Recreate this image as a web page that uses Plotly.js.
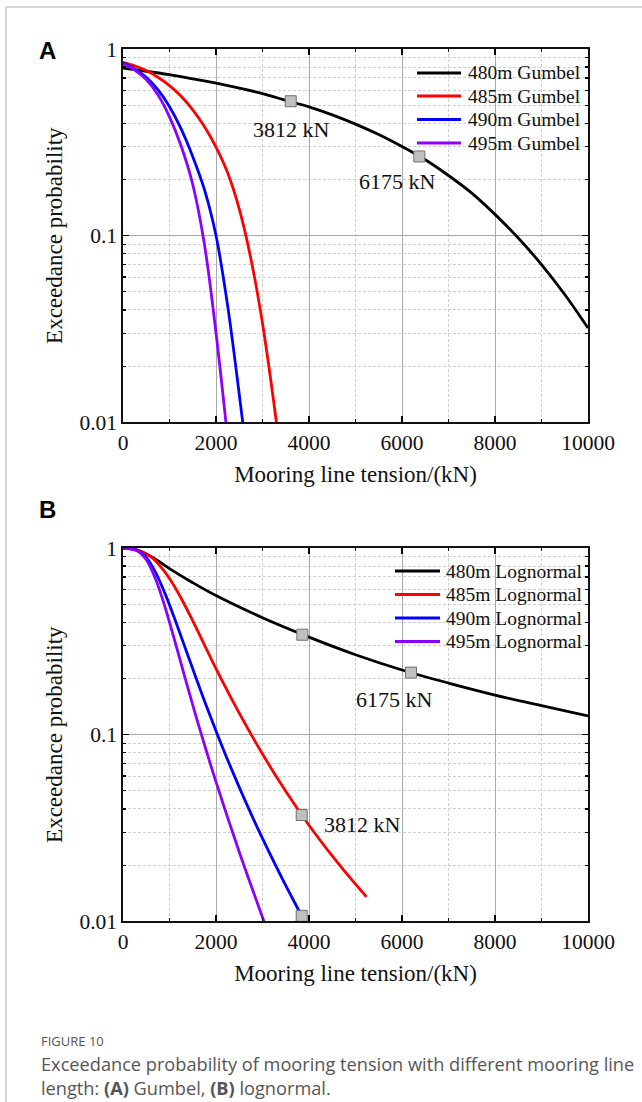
<!DOCTYPE html>
<html>
<head>
<meta charset="utf-8">
<script src="https://cdn.plot.ly/plotly-3.0.1.min.js"></script>
<style>
html,body{margin:0;padding:0;background:#fff;}
#chart{width:642px;height:1102px;}
</style>
</head>
<body>
<div id="chart"></div>
<script>
// ---------- Data ----------
// Panel A: Gumbel
const gumbel480_x = [0, 500, 1000, 1500, 2000, 2500, 3000, 3500, 4000, 4500, 5000, 5500, 6000, 6500, 7000, 7500, 8000, 8500, 9000, 9500, 10000];
const gumbel480_y = [0.789, 0.760, 0.728, 0.692, 0.656, 0.617, 0.577, 0.531, 0.490, 0.444, 0.396, 0.348, 0.300, 0.255, 0.210, 0.169, 0.130, 0.0971, 0.0700, 0.0484, 0.0320];
const gumbel485_x = [0, 250, 500, 750, 1000, 1250, 1500, 1750, 2000, 2250, 2500, 2750, 3000, 3250, 3310];
const gumbel485_y = [0.849, 0.813, 0.766, 0.706, 0.637, 0.558, 0.472, 0.384, 0.298, 0.217, 0.139, 0.0752, 0.0339, 0.01238, 0.0095];
const gumbel490_x = [0, 250, 500, 750, 1000, 1250, 1500, 1750, 2000, 2250, 2500, 2580];
const gumbel490_y = [0.841, 0.783, 0.705, 0.605, 0.491, 0.373, 0.265, 0.177, 0.1001, 0.0422, 0.01414, 0.00977];
const gumbel495_x = [0, 250, 500, 750, 1000, 1250, 1500, 1750, 2000, 2230];
const gumbel495_y = [0.832, 0.772, 0.686, 0.569, 0.433, 0.302, 0.188, 0.0902, 0.0302, 0.00912];
// Panel B: Lognormal
const logn480_x = [0, 250, 500, 750, 1000, 1500, 2000, 3000, 4000, 5000, 6000, 7000, 8000, 9000, 10000];
const logn480_y = [1.0, 0.983, 0.931, 0.854, 0.776, 0.652, 0.556, 0.423, 0.333, 0.268, 0.222, 0.189, 0.163, 0.143, 0.126];
const logn485_x = [0, 300, 600, 800, 1000, 1250, 1500, 1750, 2000, 2500, 3000, 3500, 4000, 4500, 5000, 5237];
const logn485_y = [1.0, 0.979, 0.895, 0.800, 0.686, 0.538, 0.407, 0.303, 0.2257, 0.1303, 0.0787, 0.0497, 0.0327, 0.0224, 0.0158, 0.01352];
const logn490_x = [0, 300, 500, 700, 900, 1100, 1400, 1800, 2200, 2800, 3400, 3843, 3920];
const logn490_y = [1.0, 0.973, 0.891, 0.741, 0.573, 0.425, 0.264, 0.141, 0.0785, 0.0355, 0.01742, 0.01067, 0.00977];
const logn495_x = [0, 300, 500, 700, 900, 1100, 1300, 1600, 2000, 2500, 3000, 3060];
const logn495_y = [1.0, 0.966, 0.865, 0.682, 0.486, 0.327, 0.216, 0.1181, 0.0558, 0.0235, 0.01051, 0.00955];
// Marked points
const markA_x = [3607, 6373];
const markA_y = [0.525, 0.2656];
const markB_x = [3857, 6194, 3843, 3843];
const markB_y = [0.343, 0.215, 0.0371, 0.0107];
// Labels
const xTickVals = [0, 2000, 4000, 6000, 8000, 10000];
const xTickText = ['0', '2000', '4000', '6000', '8000', '10000'];
const yTickVals = [0.01, 0.1, 1];
const yTickText = ['0.01', '0.1', '1'];
const yMinorVals = [0.02,0.03,0.04,0.05,0.06,0.07,0.08,0.09,0.2,0.3,0.4,0.5,0.6,0.7,0.8,0.9];
const namesA = ['480m Gumbel', '485m Gumbel', '490m Gumbel', '495m Gumbel'];
const namesB = ['480m Lognormal', '485m Lognormal', '490m Lognormal', '495m Lognormal'];
const colors = ['#000000', '#ff0000', '#0000ff', '#8b00ff'];
const pointLabelsA = ['3812 kN', '6175 kN'];
const pointLabelsB = ['6175 kN', '3812 kN'];

// ---------- Layout helpers ----------
const W = 642, H = 1102;
const px = v => v / W;
const py = v => 1 - v / H;
const serif = 'Liberation Serif, Times New Roman, serif';
const sans = 'Open Sans, Noto Sans, sans-serif';

function line(x, y, name, color, xa, ya) {
  return {x: x, y: y, name: name, type: 'scatter', mode: 'lines', showlegend: false,
          line: {color: color, width: 2.8, shape: 'spline', smoothing: 1},
          xaxis: xa, yaxis: ya, hoverinfo: 'skip'};
}
function marks(x, y, xa, ya) {
  return {x: x, y: y, type: 'scatter', mode: 'markers', showlegend: false,
          marker: {symbol: 'square', size: 11, color: '#c0c0c0', line: {color: '#707070', width: 1}},
          xaxis: xa, yaxis: ya, hoverinfo: 'skip'};
}

const data = [
  line(gumbel480_x, gumbel480_y, namesA[0], colors[0], 'x', 'y'),
  line(gumbel485_x, gumbel485_y, namesA[1], colors[1], 'x', 'y'),
  line(gumbel490_x, gumbel490_y, namesA[2], colors[2], 'x', 'y'),
  line(gumbel495_x, gumbel495_y, namesA[3], colors[3], 'x', 'y'),
  marks(markA_x, markA_y, 'x', 'y'),
  line(logn480_x, logn480_y, namesB[0], colors[0], 'x2', 'y2'),
  line(logn485_x, logn485_y, namesB[1], colors[1], 'x2', 'y2'),
  line(logn490_x, logn490_y, namesB[2], colors[2], 'x2', 'y2'),
  line(logn495_x, logn495_y, namesB[3], colors[3], 'x2', 'y2'),
  marks(markB_x, markB_y, 'x2', 'y2')
];

function xaxis(anchor) {
  return {
    anchor: anchor, domain: [px(123), px(588)], range: [0, 10000],
    tickmode: 'array', tickvals: xTickVals, ticktext: xTickText,
    ticks: 'inside', ticklen: 6, tickwidth: 1.2, tickcolor: '#000',
    showline: true, linecolor: '#111', linewidth: 1.6, mirror: 'allticks',
    showgrid: true, gridcolor: '#a8a8a8', gridwidth: 1,
    zeroline: false, automargin: false,
    tickfont: {family: serif, size: 21.5, color: '#111'},
    title: {text: 'Mooring line tension/(kN)', font: {family: serif, size: 23, color: '#111'}, standoff: 12},
    minor: {dtick: 1000, ticks: 'inside', ticklen: 3, tickcolor: '#000', showgrid: true,
            gridcolor: '#d0d0d0', griddash: '3px,2px', gridwidth: 1}
  };
}
function yaxis(anchor, top, bottom) {
  return {
    anchor: anchor, domain: [py(bottom), py(top)], type: 'log', range: [-2, 0],
    tickmode: 'array', tickvals: yTickVals, ticktext: yTickText,
    ticks: 'inside', ticklen: 6, tickwidth: 1.2, tickcolor: '#000',
    showline: true, linecolor: '#111', linewidth: 1.6, mirror: 'allticks',
    showgrid: true, gridcolor: '#a8a8a8', gridwidth: 1,
    zeroline: false, automargin: false,
    tickfont: {family: serif, size: 21.5, color: '#111'},
    title: {text: 'Exceedance probability', font: {family: serif, size: 23, color: '#111'}, standoff: 10},
    minor: {tickmode: 'array', tickvals: yMinorVals, ticks: 'inside', ticklen: 3, tickcolor: '#000',
            showgrid: true, gridcolor: '#d0d0d0', griddash: '3px,2px', gridwidth: 1}
  };
}

const annFont = {family: serif, size: 22, color: '#111'};
const annotations = [
  {xref: 'x', yref: 'y', x: 3634, y: Math.log10(0.369), text: pointLabelsA[0], showarrow: false, font: annFont},
  {xref: 'x', yref: 'y', x: 5899, y: Math.log10(0.195), text: pointLabelsA[1], showarrow: false, font: annFont},
  {xref: 'x2', yref: 'y2', x: 5842, y: Math.log10(0.1545), text: pointLabelsB[0], showarrow: false, font: annFont},
  {xref: 'x2', yref: 'y2', x: 5161, y: Math.log10(0.0331), text: pointLabelsB[1], showarrow: false, font: annFont},
  {xref: 'paper', yref: 'paper', x: px(48), y: py(51), xanchor: 'center', yanchor: 'middle', text: '<b>A</b>', showarrow: false,
   font: {family: 'Liberation Sans, Arial, sans-serif', size: 24, color: '#000'}},
  {xref: 'paper', yref: 'paper', x: px(48), y: py(510), xanchor: 'center', yanchor: 'middle', text: '<b>B</b>', showarrow: false,
   font: {family: 'Liberation Sans, Arial, sans-serif', size: 24, color: '#000'}},
  {xref: 'paper', yref: 'paper', x: px(39), y: py(1041), xanchor: 'left', yanchor: 'middle', text: 'FIGURE 10', showarrow: false,
   font: {family: sans, size: 13, color: '#555'}},
  {xref: 'paper', yref: 'paper', x: px(39), y: py(1064), xanchor: 'left', yanchor: 'middle', showarrow: false,
   text: 'Exceedance probability of mooring tension with different mooring line',
   font: {family: sans, size: 18.2, color: '#555'}},
  {xref: 'paper', yref: 'paper', x: px(39), y: py(1088), xanchor: 'left', yanchor: 'middle', showarrow: false,
   text: 'length: <b>(A)</b> Gumbel, <b>(B)</b> lognormal.',
   font: {family: sans, size: 18.2, color: '#555'}}
];
const shapes = [
  {type: 'line', xref: 'paper', yref: 'paper', x0: px(6), x1: px(6), y0: 0, y1: py(7), line: {color: '#c8c8c8', width: 1.5}},
  {type: 'line', xref: 'paper', yref: 'paper', x0: px(6), x1: 1, y0: py(7), y1: py(7), line: {color: '#c8c8c8', width: 1.5}}
];
// Legends (line sample + label), drawn from the names/colors arrays
const legA = {x0: 417, x1: 461, tx: 466, ys: [73, 96, 119.5, 143]};
const legB = {x0: 395, x1: 440, tx: 444, ys: [571, 594.5, 618, 641.5]};
[[legA, namesA], [legB, namesB]].forEach(([lg, names]) => {
  names.forEach((nm, i) => {
    shapes.push({type: 'line', xref: 'paper', yref: 'paper', x0: px(lg.x0), x1: px(lg.x1),
                 y0: py(lg.ys[i]), y1: py(lg.ys[i]), line: {color: colors[i], width: 2.8}});
    annotations.push({xref: 'paper', yref: 'paper', x: px(lg.tx), y: py(lg.ys[i]), xanchor: 'left', yanchor: 'middle',
                      text: nm, showarrow: false, font: {family: serif, size: 19.5, color: '#111'}});
  });
});

const layout = {
  width: W, height: H,
  margin: {l: 0, r: 0, t: 0, b: 0},
  paper_bgcolor: '#fff', plot_bgcolor: '#fff',
  showlegend: false,
  xaxis: xaxis('y'), yaxis: yaxis('x', 49, 422.3),
  xaxis2: xaxis('y2'), yaxis2: yaxis('x2', 548, 921.3),
  annotations: annotations,
  shapes: shapes
};

Plotly.newPlot('chart', data, layout, {displayModeBar: false, staticPlot: true});
</script>
</body>
</html>
